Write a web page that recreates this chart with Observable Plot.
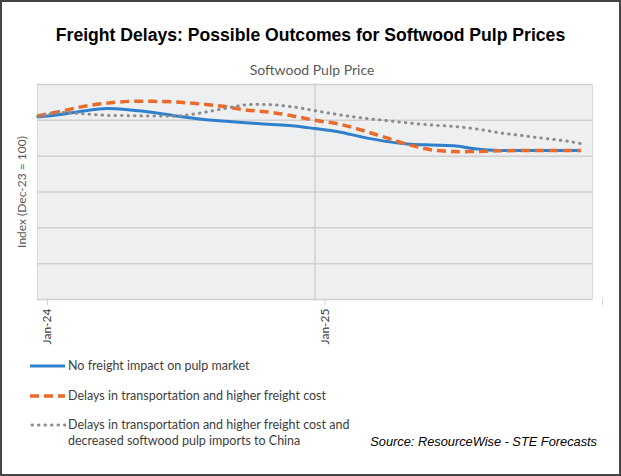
<!DOCTYPE html>
<html><head><meta charset="utf-8">
<script src="https://cdn.jsdelivr.net/npm/d3@7"></script>
<script src="https://cdn.jsdelivr.net/npm/@observablehq/plot@0.6"></script>
<style>
body{margin:0;background:#fff;}
#wrap{position:relative;width:621px;height:476px;overflow:hidden;background:#fff;}
#border{position:absolute;left:0;top:0;width:621px;height:476px;box-sizing:border-box;border:2px solid #454545;pointer-events:none;}
#title{position:absolute;top:25px;left:0;width:621px;text-align:center;font:bold 17.6px "Liberation Sans",Arial,sans-serif;color:#000;}
#sub{position:absolute;top:61px;left:0;width:624px;text-align:center;font:14px Lato,sans-serif;color:#595959;}
#chart{position:absolute;left:0;top:76px;}
.leg{position:absolute;left:68px;font:12.5px Lato,sans-serif;color:#404040;line-height:16px;white-space:nowrap;}
.sw{position:absolute;left:30px;}
#source{position:absolute;right:24px;top:434px;font:italic 12.8px "Liberation Sans",Arial,sans-serif;color:#000;}
</style>
</head><body>
<div id="wrap">
  <div id="title"></div>
  <div id="sub"></div>
  <div id="chart"></div>
  <div id="legend"></div>
  <div id="source"></div>
  <div id="border"></div>
</div>
<script>
// ---- data ----
const months = [0,1,2,3,4,5,6,7,8,9,10,11,12,13,14,15,16,17,18,19,20,21,22,23,23.5]; // months since Jan-24
const noFreight = [100.9,101.6,102.6,103.3,102.9,102.2,101.2,100.4,99.8,99.3,98.9,98.5,97.7,96.8,95.4,94.2,93.4,93.1,92.9,92.0,91.6,91.6,91.6,91.6,91.6];
const delays = [101.2,102.5,103.9,104.8,105.3,105.3,105.1,104.6,103.9,102.9,102.3,101.3,100.0,99.0,97.3,95.3,93.3,91.8,91.3,91.3,91.5,91.6,91.6,91.6,91.6];
const delaysChina = [101.1,102.2,101.8,101.4,101.3,101.2,101.2,102.0,103.2,104.3,104.4,103.8,102.7,101.6,100.7,100.0,99.3,98.7,98.3,97.6,96.5,95.7,94.9,94.1,93.5];
const seriesNames = [
  "No freight impact on pulp market",
  "Delays in transportation and higher freight cost",
  "Delays in transportation and higher freight cost and\ndecreased softwood pulp imports to China"
];
const xTickPositions = [0, 12, 24];
const xTickLabels = ["Jan-24", "Jan-25", ""];
const yGridValues = [50, 60, 70, 80, 90, 100, 110];
const titleText = "Freight Delays: Possible Outcomes for Softwood Pulp Prices";
const subtitleText = "Softwood Pulp Price";
const yLabel = "Index (Dec-23 = 100)";
const sourceText = "Source: ResourceWise - STE Forecasts";

const colors = ["#2f80cc", "#e96a2a", "#8c8c8c"];
const widths = [3, 3.5, 3];
const dashes = [null, "9,5", "0.5,6"];

const rows = (vals) => months.map((m, i) => ({m, v: vals[i]}));
const allSeries = [noFreight, delays, delaysChina];

document.getElementById("title").textContent = titleText;
document.getElementById("sub").textContent = subtitleText;
document.getElementById("source").textContent = sourceText;

const chart = Plot.plot({
  width: 621,
  height: 284,
  marginLeft: 37,
  marginRight: 29,
  marginTop: 8,
  marginBottom: 61,
  style: {fontFamily: "Lato, sans-serif", background: "transparent"},
  x: {domain: [0, 24]},
  y: {domain: [50, 110]},
  marks: [
    Plot.frame({fill: "#eeeff1", stroke: "#dadada"}),
    Plot.gridY(yGridValues, {stroke: "#d0d0d0", strokeOpacity: 1, strokeWidth: 1.5}),
    Plot.gridX([xTickPositions[1]], {stroke: "#d0d0d0", strokeOpacity: 1, strokeWidth: 1.5}),
    Plot.axisX(xTickPositions, {
      tickSize: 6, stroke: "#d0d0d0", tickRotate: -90, tickPadding: 3,
      tickFormat: (d, i) => xTickLabels[i], fontSize: 12, fill: "#404040", dx: 10, label: null
    }),
    Plot.axisY([], {label: null}),
    Plot.text([yLabel], {frameAnchor: "left", textAnchor: "middle", rotate: -90, dx: -15, fontSize: 12, fill: "#595959"}),
    ...allSeries.map((vals, k) => Plot.line(rows(vals), {
      x: "m", y: "v", stroke: colors[k], strokeWidth: widths[k],
      strokeDasharray: dashes[k], strokeLinecap: k === 2 ? "round" : "butt",
      curve: "catmull-rom"
    }))
  ]
});
document.getElementById("chart").appendChild(chart);

// legend
const legTops = [358, 388, 417];
const legend = document.getElementById("legend");
seriesNames.forEach((name, k) => {
  const sw = document.createElementNS("http://www.w3.org/2000/svg", "svg");
  sw.setAttribute("class", "sw");
  sw.setAttribute("width", 36); sw.setAttribute("height", 10);
  sw.style.top = (legTops[k] + 3) + "px";
  const ln = document.createElementNS("http://www.w3.org/2000/svg", "line");
  ln.setAttribute("x1", k === 2 ? 2 : 0); ln.setAttribute("x2", 35);
  ln.setAttribute("y1", 5); ln.setAttribute("y2", 5);
  ln.setAttribute("stroke", colors[k]);
  ln.setAttribute("stroke-width", widths[k]);
  if (dashes[k]) ln.setAttribute("stroke-dasharray", dashes[k]);
  ln.setAttribute("stroke-linecap", k === 2 ? "round" : "butt");
  sw.appendChild(ln);
  legend.appendChild(sw);
  const t = document.createElement("div");
  t.className = "leg";
  t.style.top = legTops[k] + "px";
  t.innerHTML = name.split("\n").join("<br>");
  legend.appendChild(t);
});
</script>
</body></html>
